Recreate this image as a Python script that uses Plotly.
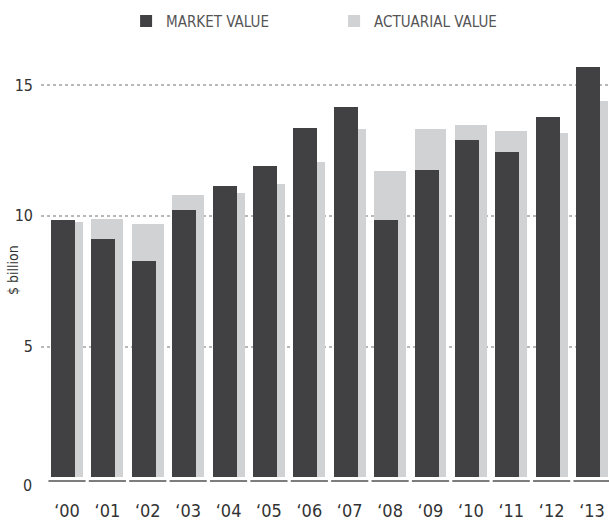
import plotly.graph_objects as go

years = ["\u201800", "\u201801", "\u201802", "\u201803", "\u201804", "\u201805", "\u201806",
         "\u201807", "\u201808", "\u201809", "\u201810", "\u201811", "\u201812", "\u201813"]
market_value = [9.85, 9.12, 8.29, 10.23, 11.15, 11.92, 13.37, 14.18, 9.85, 11.76, 12.91, 12.45, 13.79, 15.71]
actuarial_value = [9.75, 9.89, 9.70, 10.78, 10.88, 11.23, 12.07, 13.33, 11.72, 13.33, 13.49, 13.26, 13.18, 14.41]
y_ticks = [0, 5, 10, 15]
y_title = "$ billion"

DARK = "#414042"
LIGHT = "#d1d2d4"
FONT = "Liberation Sans Narrow, DejaVu Sans Condensed, Roboto Condensed, sans-serif"

xs = list(range(len(years)))

fig = go.Figure()
fig.add_trace(go.Bar(
    x=xs, y=actuarial_value, name="ACTUARIAL VALUE",
    marker=dict(color=LIGHT, line=dict(width=0)),
    width=0.79, offset=-0.395,
))
fig.add_trace(go.Bar(
    x=xs, y=market_value, name="MARKET VALUE",
    marker=dict(color=DARK, line=dict(width=0)),
    width=0.595, offset=-0.395,
))

shapes = []
for i in xs:
    shapes.append(dict(type="line", xref="x", yref="y",
                       x0=i - 0.46, x1=i + 0.46, y0=-0.15, y1=-0.15,
                       line=dict(color="#7d7d7d", width=2), layer="above"))

annotations = [
    dict(xref="paper", yref="paper", x=0, y=0, text=str(y_ticks[0]),
         showarrow=False, xanchor="right", yanchor="middle", xshift=-7,
         font=dict(family=FONT, size=16, color="#333333")),
    dict(xref="paper", yref="paper", x=0, y=0.49, text=y_title, textangle=-90,
         showarrow=False, xanchor="center", yanchor="middle", xshift=-28,
         font=dict(family=FONT, size=14, color="#333333")),
]

fig.update_layout(
    width=609, height=525,
    margin=dict(l=41, r=0, t=46, b=40, autoexpand=False),
    paper_bgcolor="white", plot_bgcolor="white",
    barmode="overlay",
    bargap=0,
    showlegend=True,
    legend=dict(orientation="h", x=0.516, xref="paper", xanchor="center",
                y=1.094, yref="paper", yanchor="top",
                traceorder="reversed",
                font=dict(family=FONT, size=15, color="#555555"),
                entrywidth=163, entrywidthmode="pixels",
                itemclick=False),
    xaxis=dict(
        tickmode="array", tickvals=xs, ticktext=years,
        range=[-0.644, 13.42],
        showgrid=False, zeroline=False, showline=False, automargin=False,
        ticks="", tickfont=dict(family=FONT, size=18, color="#333333"),
        ticklabelstandoff=13,
    ),
    yaxis=dict(
        range=[-0.3, 16.5],
        tickmode="array", tickvals=y_ticks[1:], ticktext=[str(v) for v in y_ticks[1:]],
        showgrid=True, gridcolor="#b8b8b8", gridwidth=1.5, griddash="dot",
        zeroline=False, showline=False, ticks="", automargin=False,
        ticklabelstandoff=7,
        tickfont=dict(family=FONT, size=16, color="#333333"),
    ),
    shapes=shapes,
    annotations=annotations,
)

fig.write_html("out.html",
               config={"displayModeBar": False},
               post_script="document.body.style.margin='0';document.body.style.overflow='hidden';")
